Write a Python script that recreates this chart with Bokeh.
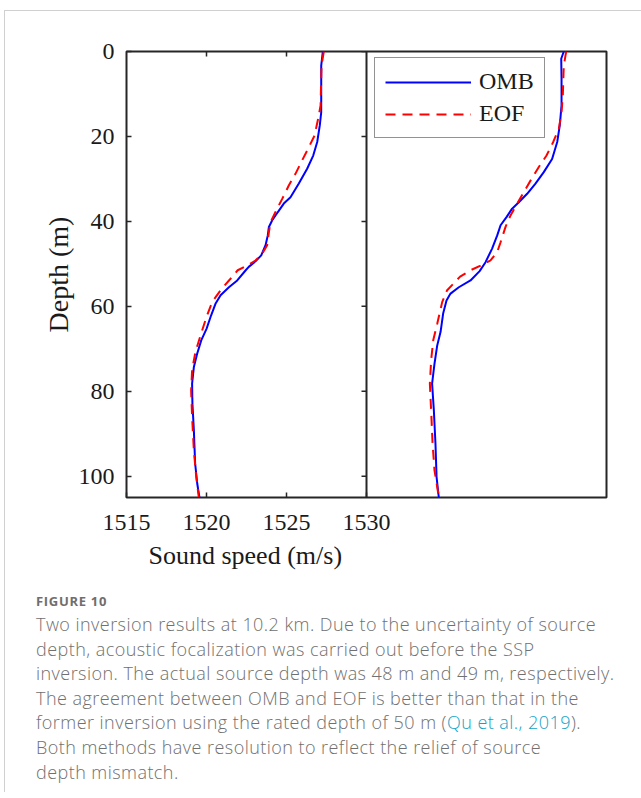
import math
from bokeh.plotting import figure
from bokeh.models import Range1d, FixedTicker, Div, Span, Title
from bokeh.layouts import column
from bokeh.embed import file_html
from bokeh.resources import INLINE

# ---------------- data ----------------
left_omb_depth = [0, 3.3, 14.3, 17.4, 21.3, 24.5, 27.6, 31.1, 34.3, 35.8, 37.8, 39.8, 41.3, 43.3,
                  45.6, 48.0, 49.4, 50.7, 51.5, 53.9, 55.5, 57.4, 59.4, 62.1, 65.3, 68.0, 71.1,
                  74.3, 78.2, 82.9, 89.2, 97.0, 101.7, 105]
left_omb_speed = [1527.27, 1527.17, 1527.17, 1527.08, 1526.92, 1526.67, 1526.29, 1525.77, 1525.25,
                  1524.83, 1524.46, 1524.10, 1523.90, 1523.83, 1523.69, 1523.42, 1523.06, 1522.64,
                  1522.45, 1521.92, 1521.40, 1520.88, 1520.56, 1520.29, 1520.00, 1519.67, 1519.42,
                  1519.21, 1519.10, 1519.12, 1519.21, 1519.29, 1519.42, 1519.56]

left_eof_depth = [0, 3.3, 12.7, 15.8, 19.8, 22.5, 25.6, 28.8, 31.5, 34.7, 37.8, 40.2, 42.5, 45.6,
                  47.6, 49.2, 50.4, 51.5, 53.5, 56.2, 59.0, 62.5, 66.8, 70.7, 75.0, 79.8, 86.0,
                  93.9, 100.2, 105]
left_eof_speed = [1527.33, 1527.19, 1527.13, 1526.98, 1526.75, 1526.40, 1525.98, 1525.56, 1525.15,
                  1524.73, 1524.31, 1524.00, 1523.90, 1523.79, 1523.48, 1523.06, 1522.54, 1521.95,
                  1521.50, 1520.88, 1520.35, 1520.00, 1519.63, 1519.31, 1519.10, 1519.04, 1519.10,
                  1519.21, 1519.36, 1519.52]

right_omb_depth = [0, 1.7, 6.4, 12.7, 17.4, 21.3, 25.3, 28.4, 31.1, 33.5, 35.5, 37.0, 39.0, 40.9,
                   43.3, 46.4, 49.6, 51.7, 53.9, 55.5, 57.0, 58.6, 61.7, 66.0, 69.2, 73.5, 78.2,
                   84.5, 92.3, 100.2, 105]
right_omb_speed = [1527.33, 1527.17, 1527.19, 1527.19, 1527.08, 1526.92, 1526.60, 1526.08, 1525.56,
                   1525.04, 1524.52, 1524.10, 1523.75, 1523.38, 1523.17, 1522.85, 1522.44, 1522.07,
                   1521.50, 1520.77, 1520.25, 1520.00, 1519.79, 1519.63, 1519.42, 1519.25, 1519.10,
                   1519.21, 1519.31, 1519.38, 1519.52]

right_eof_depth = [0, 3.3, 10.4, 14.3, 18.2, 21.3, 24.5, 27.2, 30.4, 33.1, 35.8, 38.6, 41.3, 44.9,
                   47.2, 49.2, 50.4, 51.5, 53.0, 56.2, 59.0, 64.1, 68.0, 72.7, 78.2, 84.5, 92.3,
                   98.6, 104.9]
right_eof_speed = [1527.48, 1527.33, 1527.27, 1527.19, 1527.02, 1526.67, 1526.25, 1525.77, 1525.25,
                   1524.83, 1524.42, 1524.00, 1523.69, 1523.38, 1523.17, 1522.75, 1522.13, 1521.50,
                   1520.85, 1520.04, 1519.73, 1519.42, 1519.17, 1519.04, 1518.96, 1519.04, 1519.13,
                   1519.25, 1519.52]

x_ticks = [1515, 1520, 1525, 1530]
inner_x_ticks = [1520, 1525]
y_ticks = [0, 20, 40, 60, 80, 100]
panel_lo, panel_hi = 1515, 1530          # each panel spans 1515-1530 m/s
y_lim = (105, 0)

# ---------------- styling ----------------
SERIF = "Liberation Serif"
AX = "#262626"
TXT = "#1a1a1a"
BLUE = "#0000ff"
RED = "#ff0000"
DASH = "10 7"
PANEL_W, FRAME_H = 240, 446
TICK = 5

# one frame holding both panels: left panel on the default range, right panel on an extra range
p = figure(frame_width=2 * PANEL_W, frame_height=FRAME_H,
           x_range=Range1d(panel_lo, panel_hi + (panel_hi - panel_lo)),
           y_range=Range1d(*y_lim),
           output_backend="svg", toolbar_location=None,
           min_border_left=121, min_border_right=35,
           min_border_top=40, min_border_bottom=85)
p.extra_x_ranges = {"right": Range1d(panel_lo - (panel_hi - panel_lo), panel_hi)}
p.grid.visible = False
p.outline_line_color = AX
p.outline_line_width = 2
p.border_fill_color = None
p.background_fill_color = "white"

# axes
xa, ya = p.xaxis[0], p.yaxis[0]
xa.ticker = FixedTicker(ticks=x_ticks)
ya.ticker = FixedTicker(ticks=y_ticks)
for ax in (xa, ya):
    ax.axis_line_color = None
    ax.major_tick_in = TICK
    ax.major_tick_out = 0
    ax.major_tick_line_color = AX
    ax.major_tick_line_width = 1.5
    ax.minor_tick_line_color = None
    ax.major_label_text_font = SERIF
    ax.major_label_text_font_size = "24px"
    ax.major_label_text_color = TXT
    ax.axis_label_text_font = SERIF
    ax.axis_label_text_font_style = "normal"
    ax.axis_label_text_color = TXT
xa.major_label_standoff = 17
ya.major_label_standoff = 12
ya.axis_label = "Depth (m)"
ya.axis_label_text_font_size = "28px"
ya.axis_label_standoff = 2

# x label placed under the left panel only
xlabel = Title(text="Sound speed (m/s)", align="left", offset=22,
               text_font=SERIF, text_font_size="26px", text_font_style="normal",
               text_color=TXT, standoff=12)
p.add_layout(xlabel, "below")

# mirrored inward ticks of the left panel (top edge and the shared middle edge)
p.ray(x=inner_x_ticks, y=[y_lim[1]] * len(inner_x_ticks), length=TICK, length_units="screen",
      angle=-math.pi / 2, line_color=AX, line_width=1.5)
p.ray(x=[panel_hi] * len(y_ticks), y=y_ticks, length=TICK, length_units="screen",
      angle=math.pi, line_color=AX, line_width=1.5)

# divider between the two panels
p.add_layout(Span(location=panel_hi, dimension="height", line_color=AX, line_width=2))

# left panel
p.line(left_omb_speed, left_omb_depth, line_color=BLUE, line_width=2)
p.line(left_eof_speed, left_eof_depth, line_color=RED, line_width=2, line_dash=DASH)

# right panel
p.line(right_omb_speed, right_omb_depth, line_color=BLUE, line_width=2,
       x_range_name="right", legend_label="OMB")
p.line(right_eof_speed, right_eof_depth, line_color=RED, line_width=2, line_dash=DASH,
       x_range_name="right", legend_label="EOF")

lg = p.legend[0]
lg.location = (PANEL_W + 8, 359)
lg.padding = 10
lg.spacing = 5
lg.glyph_width = 86
lg.glyph_height = 24
lg.label_height = 24
lg.label_standoff = 8
lg.label_text_font = SERIF
lg.label_text_font_size = "24px"
lg.label_text_color = TXT
lg.border_line_color = AX
lg.border_line_width = 1.5
lg.background_fill_color = "white"
lg.background_fill_alpha = 1.0

# ---------------- caption ----------------
caption_lines = [
    "Two inversion results at 10.2 km. Due to the uncertainty of source",
    "depth, acoustic focalization was carried out before the SSP",
    "inversion. The actual source depth was 48 m and 49 m, respectively.",
    "The agreement between OMB and EOF is better than that in the",
    "former inversion using the rated depth of 50 m (<span style='color:#12a3c6'>Qu et al., 2019</span>).",
    "Both methods have resolution to reflect the relief of source",
    "depth mismatch.",
]
cap_html = (
    "<div style=\"font-family:'Open Sans',Lato,sans-serif;padding-left:26px;padding-top:4px;\">"
    "<div style='font-size:13px;line-height:21px;font-weight:bold;color:#6e6e6e;letter-spacing:0.7px'>FIGURE 10</div>"
    "<div style='font-size:18px;line-height:24.6px;font-weight:300;color:#707070;letter-spacing:0.45px;white-space:nowrap'>"
    + "<br>".join(caption_lines) +
    "</div></div>"
)
cap = Div(text=cap_html, width=626, height=200)

layout = column(p, cap,
                styles={"border-top": "1px solid #d0d0d0", "border-left": "1px solid #d0d0d0",
                        "margin-left": "4px", "margin-top": "10px"})

open("out.html", "w").write(file_html(layout, INLINE))
